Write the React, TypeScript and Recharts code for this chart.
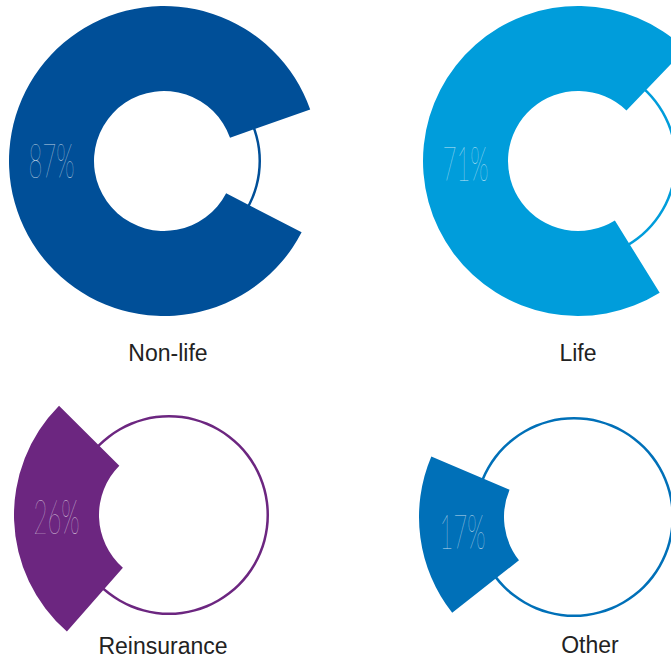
import { PieChart, Pie, Cell } from 'recharts'

// business lines, share in percent
const categories = ['Non-life', 'Life', 'Reinsurance', 'Other']
const shares = [87, 71, 26, 17]
const percentLabels = ['87%', '71%', '26%', '17%']

const COLORS = ['#004f98', '#009ddb', '#6c2680', '#0070b8']

// layout (pixels / degrees), one entry per category
const CENTERS = [[164, 161], [578, 161], [169, 515], [574, 517]]
const TILT = [-4, -6, 2, 7.6] // rotation of the sector away from 9 o'clock
const LABEL_TILT = [0, 1.5, 1, 7.6]
const RING_RADIUS = [97, 99, 100, 100]
const NAME_POS = [[168, 362], [578, 362], [163, 655], [590, 654]]

const INNER = 70
const OUTER = 155
const WIDTH = 671
const HEIGHT = 660

export default function App() {
    return (
        <div style={{ position: 'absolute', left: 0, top: 0, width: WIDTH, height: HEIGHT, background: '#fff' }}>
            <PieChart width={WIDTH} height={HEIGHT} margin={{ top: 0, right: 0, bottom: 0, left: 0 }}>
                {categories.map((cat, i) => (
                    <Pie
                        key={`ring-${cat}`}
                        data={[{ name: cat, value: 1 }]}
                        dataKey="value"
                        cx={CENTERS[i][0]}
                        cy={CENTERS[i][1]}
                        innerRadius={RING_RADIUS[i] - 2.5}
                        outerRadius={RING_RADIUS[i]}
                        startAngle={0}
                        endAngle={360}
                        fill={COLORS[i]}
                        stroke="none"
                        isAnimationActive={false}
                    />
                ))}
                {categories.map((cat, i) => {
                    const share = shares[i]
                    const start = 180 + TILT[i] - (share * 3.6) / 2
                    const data = [
                        { name: cat, value: share },
                        { name: 'rest', value: 100 - share },
                    ]
                    return (
                        <Pie
                            key={`pie-${cat}`}
                            data={data}
                            dataKey="value"
                            cx={CENTERS[i][0]}
                            cy={CENTERS[i][1]}
                            innerRadius={INNER}
                            outerRadius={OUTER}
                            startAngle={start}
                            endAngle={start + 360}
                            stroke="none"
                            labelLine={false}
                            isAnimationActive={false}
                            label={(p: any) => {
                                if (p.index !== 0) return null
                                const a = ((180 + LABEL_TILT[i]) * Math.PI) / 180
                                const r = (INNER + OUTER) / 2
                                const x = CENTERS[i][0] + r * Math.cos(-a)
                                const y = CENTERS[i][1] + r * Math.sin(-a)
                                return (
                                    <text
                                        transform={`translate(${x},${y + 17}) scale(0.5,1)`}
                                        textAnchor="middle"
                                        fontFamily="Lato"
                                        fontWeight={100}
                                        fontSize={48}
                                        fill="#ffffff"
                                        fillOpacity={0.75}
                                    >
                                        {percentLabels[i]}
                                    </text>
                                )
                            }}
                        >
                            {data.map((d, j) => (
                                <Cell key={`cell-${j}`} fill={j === 0 ? COLORS[i] : 'none'} />
                            ))}
                        </Pie>
                    )
                })}
            </PieChart>
            {categories.map((cat, i) => (
                <div
                    key={`name-${cat}`}
                    style={{
                        position: 'absolute',
                        left: NAME_POS[i][0] - 100,
                        top: NAME_POS[i][1] - 22,
                        width: 200,
                        textAlign: 'center',
                        fontFamily: '"Liberation Sans", Arial, sans-serif',
                        fontSize: 23,
                        lineHeight: '27px',
                        color: '#222',
                    }}
                >
                    {cat}
                </div>
            ))}
        </div>
    )
}
